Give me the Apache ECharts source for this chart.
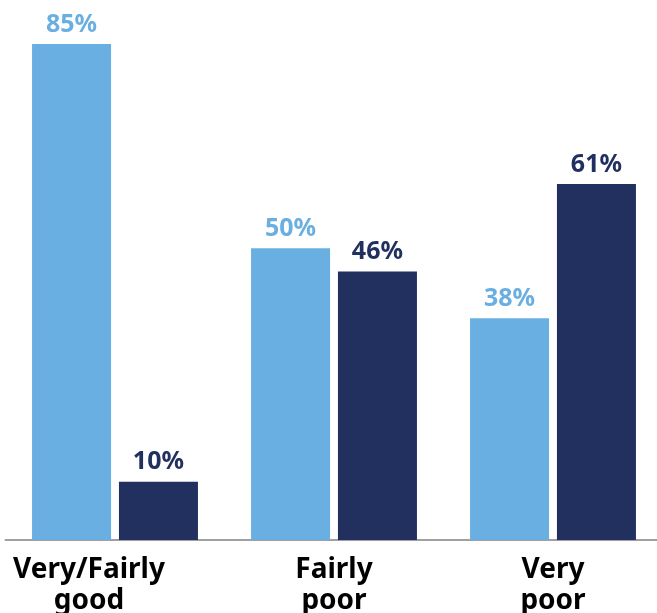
<!DOCTYPE html>
<html>
<head>
<meta charset="utf-8">
<script src="https://cdn.jsdelivr.net/npm/echarts@6/dist/echarts.min.js"></script>
<style>
  html, body { margin: 0; padding: 0; background: #fff; }
  #chart { width: 657px; height: 613px; }
</style>
</head>
<body>
<div id="chart"></div>
<script>
// 数据
var categories = ["Very/Fairly\ngood", "Fairly\npoor", "Very\npoor"];
var lightValues = [85, 50, 38];
var darkValues = [10, 46, 61];

var chart = echarts.init(document.getElementById("chart"));

var xData = categories.map(function (c, i) {
  if (i === 0) {
    // 第一个标签在原图中偏左
    return { value: c, textStyle: { padding: [0, 52, 0, 0] } };
  }
  return c;
});

function valueLabel(color) {
  return {
    show: true,
    position: "top",
    distance: 7,
    formatter: "{c}%",
    color: color,
    fontFamily: "Noto Sans",
    fontWeight: "bold",
    fontSize: 25
  };
}

var option = {
  animation: false,
  grid: { left: 5.5, width: 657, top: 44, bottom: 73, outerBoundsMode: "none" },
  xAxis: {
    type: "category",
    data: xData,
    axisLine: { lineStyle: { color: "#a0a0a0", width: 2 } },
    axisTick: { show: false },
    axisLabel: {
      margin: 15,
      color: "#000",
      fontFamily: "Noto Sans",
      fontWeight: "bold",
      fontSize: 28,
      lineHeight: 31
    }
  },
  yAxis: {
    type: "value",
    min: 0,
    max: 85,
    show: false,
    splitLine: { show: false }
  },
  series: [
    {
      type: "bar",
      data: lightValues,
      barWidth: 79,
      barGap: "10%",
      itemStyle: { color: "#6aafe1" },
      label: valueLabel("#6aafe1")
    },
    {
      type: "bar",
      data: darkValues,
      barWidth: 79,
      itemStyle: { color: "#21305f" },
      label: valueLabel("#21305f")
    }
  ]
};

chart.setOption(option);
</script>
</body>
</html>
